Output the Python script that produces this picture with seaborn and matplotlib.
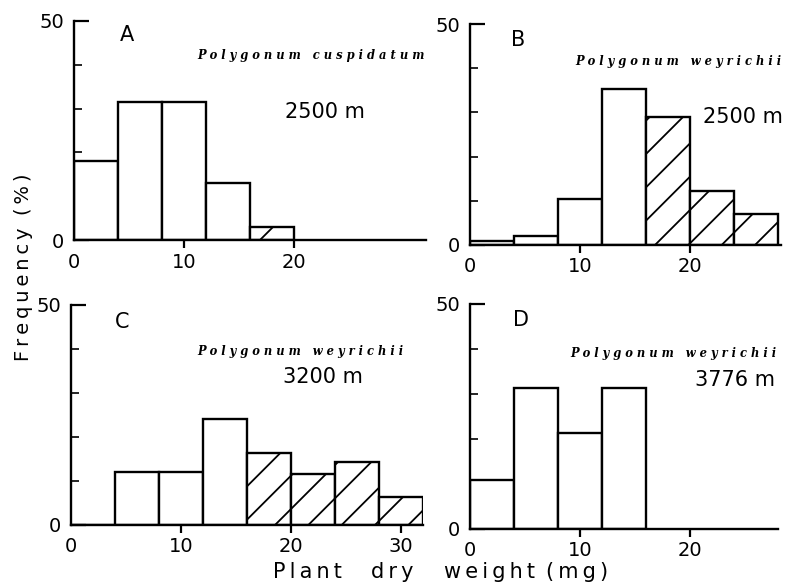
import numpy as np
import pandas as pd
import matplotlib
matplotlib.use("Agg")
import matplotlib.pyplot as plt
import seaborn as sns

# bin edges are 4 mg wide; bins starting at >= 16 mg are hatched
bin_width = 4
hatch_start = 16

panel_letters = ["A", "B", "C", "D"]
species = ["Polygonum cuspidatum", "Polygonum weyrichii",
           "Polygonum weyrichii", "Polygonum weyrichii"]
altitudes = ["2500 m", "2500 m", "3200 m", "3776 m"]

freq_a = [18, 31.6, 31.6, 13, 3]
freq_b = [1, 2, 10.4, 35.2, 29, 12.3, 7]
freq_c = [0, 12, 12, 24, 16.4, 11.5, 14.4, 6.4]
freq_d = [11, 31.4, 21.3, 31.3]
all_freqs = [freq_a, freq_b, freq_c, freq_d]

x_max = [32, 28.3, 32, 28]
x_ticks = [[0, 10, 20], [0, 10, 20], [0, 10, 20, 30], [0, 10, 20]]

sns.set_theme(style="ticks")
plt.rcParams["font.family"] = ["DejaVu Sans"]
plt.rcParams["hatch.linewidth"] = 1.3
for key in ["text.color", "axes.labelcolor", "xtick.color", "ytick.color",
            "axes.edgecolor"]:
    plt.rcParams[key] = "black"

W, H = 786, 587
fig = plt.figure(figsize=(W / 100, H / 100), dpi=100)

# axes boxes in pixels: left, bottom(y of zero), width, top
boxes = [(74, 240, 352, 21), (470, 245, 311, 24),
         (71, 525, 352, 305), (470, 529, 308, 304)]
letter_pos = [(120, 35), (511, 40), (115, 322), (513, 320)]
species_pos = [(197, 56), (575, 61), (197, 352), (570, 353)]
alt_pos = [(285, 112), (703, 117), (283, 377), (695, 380)]

THIN = "\u2009"


def fx(px):
    return px / W


def fy(py):
    return 1 - py / H


def spaced(s):
    return "   ".join(" ".join(w) for w in s.split())


def tracked(s):
    return "  ".join(THIN.join(w) for w in s.split())


for i, freqs in enumerate(all_freqs):
    l, b, w, t = boxes[i]
    ax = fig.add_axes([fx(l), fy(b), w / W, (b - t) / H])
    n = len(freqs)
    lefts = np.arange(n) * bin_width
    df = pd.DataFrame({"weight": lefts + bin_width / 2, "freq": freqs})
    sns.histplot(data=df, x="weight", weights="freq", binwidth=bin_width,
                 binrange=(0, n * bin_width), ax=ax,
                 color="white", edgecolor="black", linewidth=1.7, alpha=1)
    for patch in ax.patches:
        patch.set_facecolor("white")
        if patch.get_x() >= hatch_start - 0.01:
            patch.set_hatch("/")

    ax.set_xlim(0, x_max[i])
    ax.set_ylim(0, 50)
    ax.set_xlabel("")
    ax.set_ylabel("")
    sns.despine(ax=ax)
    for side in ["left", "bottom"]:
        ax.spines[side].set_linewidth(1.7)

    ax.set_yticks([0, 50])
    ax.set_yticks([10, 20, 30, 40], minor=True)
    ax.tick_params(axis="y", which="major", direction="in", length=11,
                   width=1.6, pad=7, labelsize=14)
    ax.tick_params(axis="y", which="minor", direction="in", length=6,
                   width=1.2)
    ax.set_xticks(x_ticks[i])
    ax.tick_params(axis="x", which="major", direction="out", length=6,
                   width=1.6, pad=3, labelsize=14)
    ax.xaxis.get_major_ticks()[0].tick1line.set_visible(False)

    lx, ly = letter_pos[i]
    fig.text(fx(lx), fy(ly), panel_letters[i], fontsize=15,
             ha="left", va="center")
    sx, sy = species_pos[i]
    fig.text(fx(sx), fy(sy), spaced(species[i]), fontsize=8.3,
             family="DejaVu Serif", style="italic", weight="bold",
             ha="left", va="center")
    ax_, ay_ = alt_pos[i]
    fig.text(fx(ax_), fy(ay_), altitudes[i], fontsize=15,
             ha="left", va="center")

fig.text(fx(24), fy(267), tracked("Frequency (%)"), rotation=90,
         fontsize=14, ha="center", va="center")

xlabel_words = ["Plant", "dry", "weight", "(mg)"]
xlabel_pos = [307, 392, 490, 577]
for word, px in zip(xlabel_words, xlabel_pos):
    fig.text(fx(px), fy(572), tracked(word), fontsize=15,
             ha="center", va="center")

fig.savefig("out.png", dpi=100)
